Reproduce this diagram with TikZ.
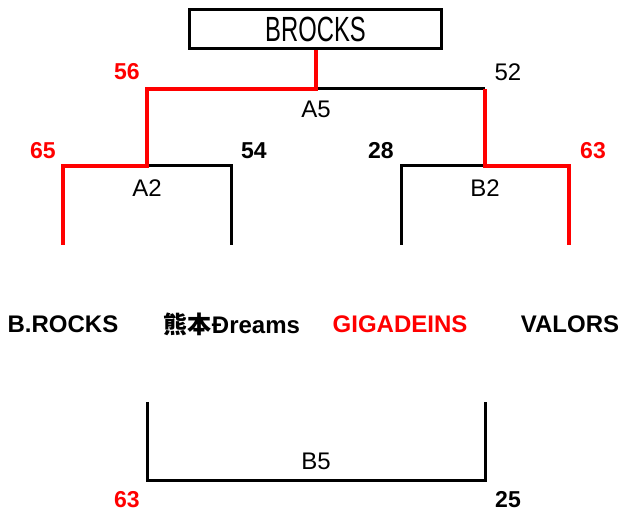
\documentclass[tikz,border=0pt]{standalone}
\usepackage{fontspec}
\setmainfont{Liberation Sans}
\newfontfamily\jpfont{Noto Sans CJK JP}
\usetikzlibrary{positioning}
\definecolor{winred}{RGB}{255,0,0}
\tikzset{
  win/.style={draw=winred,line width=4pt,line join=miter},
  lose/.style={draw=black,line width=3pt,line join=miter},
  score/.style={font=\fontsize{23}{25}\selectfont\bfseries,inner sep=0pt},
  scorelight/.style={font=\fontsize{24}{26}\selectfont,inner sep=0pt},
  rnd/.style={font=\fontsize{24}{26}\selectfont,inner sep=0pt},
  team/.style={font=\fontsize{24}{26}\selectfont\bfseries,inner sep=0pt},
  champ/.style={draw=black,line width=3pt,minimum width=252pt,minimum height=39pt,inner sep=0pt}
}
\begin{document}
\begin{tikzpicture}[x=1pt,y=-1pt]
\useasboundingbox (0,0) rectangle (622,513);
% champion box
\node[champ] (box) at (315.5,29.5) {\fontsize{35}{36}\selectfont\scalebox{0.68}[1]{BROCKS}};
% coordinates
\coordinate (a5) at (316,89);
\coordinate (a5l) at (147,89);
\coordinate (a5r) at (485,89);
\coordinate (a2l) at (63,166);
\coordinate (a2r) at (231,166);
\coordinate (b2l) at (401,166);
\coordinate (b2r) at (569,166);
\coordinate (t1) at (63,245);
\coordinate (t2) at (231,245);
\coordinate (t3) at (401,245);
\coordinate (t4) at (569,245);
\coordinate (b5l) at (147,402);
\coordinate (b5r) at (485,402);
% black lines
\draw[lose] (a5) -- (a5r);
\draw[lose] (a5l |- a2l) -- (a2r) -- (t2);
\draw[lose] (a5r |- b2l) -- (b2l) -- (t3);
\draw[lose] (b5l) -- (147,480) -- (485,480) -- (b5r);
% red lines
\draw[win] (t1) -- (a2l) -- (a5l |- a2l) -- (a5l) -- (a5) -- (box.south -| a5);
\draw[win] (t4) -- (b2r) -- (a5r |- b2r) -- (a5r);
% round labels
\node[rnd] (la5) at (316,109) {A5};
\node[rnd] (la2) at (147,188) {A2};
\node[rnd] (lb2) at (485,188) {B2};
\node[rnd] (lb5) at (316,461) {B5};
% scores
\node[score,text=winred] (s56) at (127,72) {56};
\node[scorelight] (s52) at (508,72) {52};
\node[score,text=winred] (s65) at (43,151) {65};
\node[score] (s54) at (254,151) {54};
\node[score] (s28) at (381,151) {28};
\node[score,text=winred] (s63a) at (593,151) {63};
\node[score,text=winred] (s63b) at (127,500) {63};
\node[score] (s25) at (508,500) {25};
% teams
\node[team] (tm1) at (63,324) {B.ROCKS};
\node[team] (tm2) at (232,324) {{\jpfont 熊本}Ðreams};
\node[team,text=winred] (tm3) at (400,324) {GIGADEINS};
\node[team] (tm4) at (570,324) {VALORS};
\end{tikzpicture}
\end{document}
